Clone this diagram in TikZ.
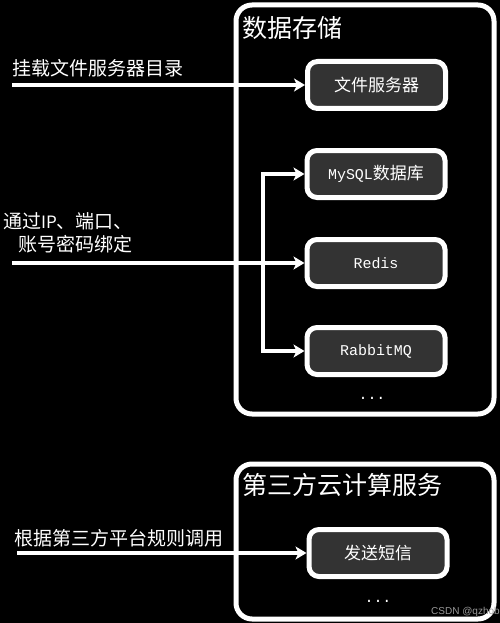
\documentclass[tikz,border=0pt]{standalone}
\usepackage{fontspec}
\setmainfont{Noto Sans CJK SC}
\newfontfamily\monof{Liberation Mono}[Scale=0.88]
\newfontfamily\wmfont{Liberation Sans}
\usetikzlibrary{arrows.meta}
\tikzset{
  container/.style={draw=white, line width=5pt, rounded corners=16pt},
  svc/.style={draw=white, fill=black!80, line width=5pt, rounded corners=10pt,
    minimum width=138pt, minimum height=47pt, inner sep=0pt, text=white,
    font=\fontsize{17pt}{20pt}\selectfont},
  lbl/.style={text=white, inner sep=0pt, font=\fontsize{19pt}{23pt}\selectfont},
  ttl/.style={text=white, inner sep=0pt, anchor=west, font=\fontsize{25pt}{30pt}\selectfont},
  dots/.style={text=white, inner sep=0pt, font=\fontsize{17pt}{20pt}\monof},
  arr/.style={draw=white, line width=4pt, -{Stealth[length=11pt,width=13pt,inset=3pt]}},
  arrboth/.style={draw=white, line width=4pt,
    {Stealth[length=11pt,width=13pt,inset=3pt]}-{Stealth[length=11pt,width=13pt,inset=3pt]}}
}
\begin{document}
\begin{tikzpicture}[x=1pt,y=-1pt]
\fill[black] (0,0) rectangle (500,623);
\useasboundingbox (0,0) rectangle (500,623);

% containers
\draw[container] (236,5) rectangle (494,414);
\draw[container] (236,464) rectangle (494,619);
\node[ttl] (t1) at (242,28) {数据存储};
\node[ttl] (t2) at (242,485) {第三方云计算服务};

% services
\node[svc] (fs) at (376.5,85) {文件服务器};
\node[svc] (mysql) at (376,174) {{\monof MySQL}数据库};
\node[svc] (redis) at (376,263) {\monof Redis};
\node[svc] (rabbit) at (376,351) {\monof RabbitMQ};
\node[dots] (d1) at (372,398) {...};
\node[svc] (sms) at (378,553) {发送短信};
\node[dots] (d2) at (378,601) {...};

% labels
\node[lbl, anchor=west] (l1) at (12,68) {挂载文件服务器目录};
\node[lbl, anchor=east, align=right] (l2) at (133,233) {通过{\fontsize{17pt}{23pt}\selectfont IP}、端口、\\账号密码绑定};
\node[lbl, anchor=west] (l3) at (14,538) {根据第三方平台规则调用};

% connectors
\coordinate (s1) at (12,85);
\coordinate (s2) at (12,263);
\coordinate (s3) at (17,553);
\coordinate (bx) at (263,263);
\draw[arr] (s1) -- (fs.west);
\draw[arr] (s2) -- (redis.west);
\draw[arrboth] (mysql.west) -- (mysql.west -| bx) -- (rabbit.west -| bx) -- (rabbit.west);
\draw[arr] (s3) -- (sms.west);

% watermark
\node[text=black!40, inner sep=0pt, anchor=west, font=\fontsize{10pt}{11pt}\wmfont] (wm) at (431,612) {CSDN @qzhob};
\end{tikzpicture}
\end{document}
